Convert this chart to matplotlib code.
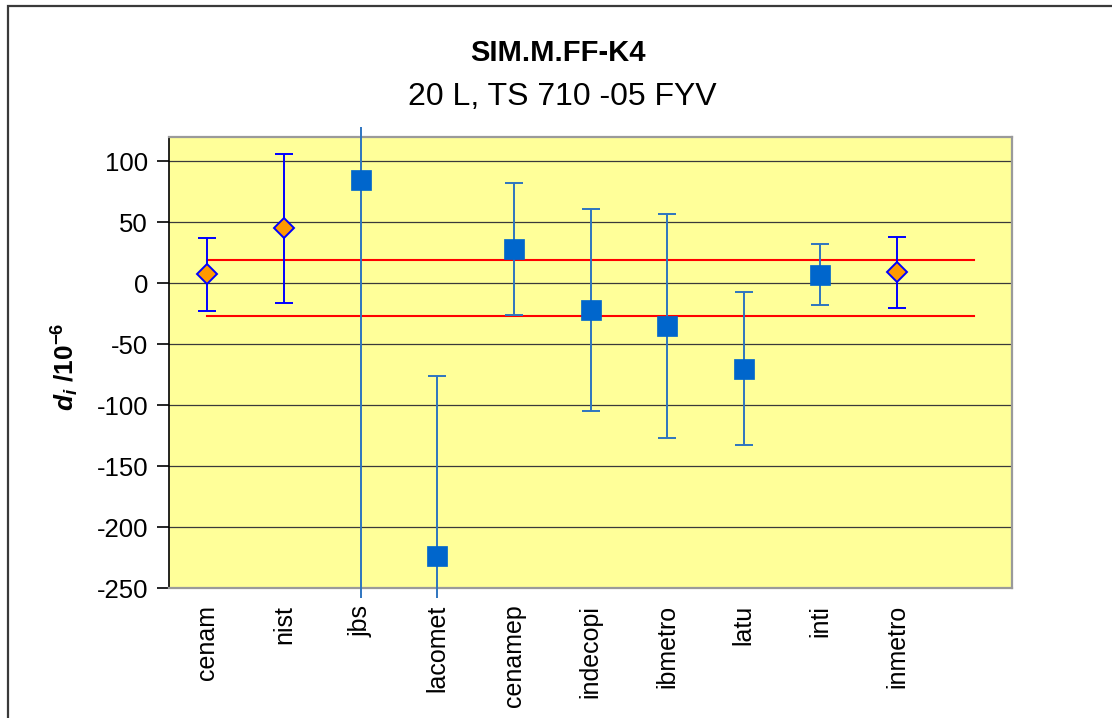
import matplotlib
matplotlib.use("Agg")
import matplotlib.pyplot as plt
from matplotlib.patches import Rectangle
import numpy as np

# ---- data ----
categories = ['cenam', 'nist', 'jbs', 'lacomet', 'cenamep', 'indecopi',
              'ibmetro', 'latu', 'inti', 'inmetro']
values = [7.5, 45, 85, -224, 28, -22, -35, -70, 7, 9]
uncert = [30, 61, 400, 148, 54, 83, 92, 63, 25, 29]
pilot = [True, True, False, False, False, False, False, False, False, True]
ref_upper = 18.7
ref_lower = -26.9
n_slots = 11
yticks = [-250, -200, -150, -100, -50, 0, 50, 100]

plt.rcParams['font.family'] = ['Liberation Sans', 'DejaVu Sans']
plt.rcParams['mathtext.fontset'] = 'custom'
plt.rcParams['mathtext.rm'] = 'Liberation Sans:bold'
plt.rcParams['mathtext.it'] = 'Liberation Sans:italic:bold'
plt.rcParams['mathtext.bf'] = 'Liberation Sans:bold'
plt.rcParams['axes.unicode_minus'] = False

W, H = 1112, 718
fig = plt.figure(figsize=(W / 100, H / 100), dpi=100)
fig.patch.set_facecolor('white')

# outer chart frame (left and top visible)
frame = Rectangle((8 / W, -0.1), 1.2, (H - 6) / H + 0.1, transform=fig.transFigure,
                  fill=False, edgecolor='#3a3a3a', lw=1.6, zorder=0)
fig.patches.append(frame)

L, R, T, B = 169, 1012, 137, 588
ax = fig.add_axes([L / W, (H - B) / H, (R - L) / W, (B - T) / H])
ax.set_facecolor('#FFFF99')
ax.set_xlim(-0.5, n_slots - 0.5)
ax.set_ylim(-250, 120)

for y in yticks[1:]:
    ax.axhline(y, color='#3a3a3a', lw=0.9, zorder=1)

x = np.arange(len(categories))
ax.plot([0, n_slots - 1], [ref_upper, ref_upper], color='#FF0000', lw=1.5, zorder=2)
ax.plot([0, n_slots - 1], [ref_lower, ref_lower], color='#FF0000', lw=1.5, zorder=2)

ext = 10 / (B - T)
clip_rect = Rectangle((0, -ext), 1, 1 + 2 * ext, transform=ax.transAxes)

vals = np.array(values, dtype=float)
unc = np.array(uncert, dtype=float)
pil = np.array(pilot)

def draw(mask, ecolor, marker, mfc, mec, ms, mew):
    cont = ax.errorbar(x[mask], vals[mask], yerr=unc[mask], fmt='none',
                       ecolor=ecolor, elinewidth=1.4, capsize=6.5, capthick=1.4,
                       zorder=3)
    for art in cont.get_children():
        art.set_clip_path(clip_rect)
    ax.plot(x[mask], vals[mask], linestyle='none', marker=marker, ms=ms,
            mfc=mfc, mec=mec, mew=mew, zorder=4)

draw(~pil, '#2E75C0', 's', '#0066CC', '#0066CC', 15.0, 0.5)
draw(pil, '#0000FF', 'D', '#FF9900', '#0000FF', 9.8, 1.4)

ax.set_xticks(x)
ax.set_xticklabels(categories, rotation=90, fontsize=18, va='top', ha='center')
ax.tick_params(axis='x', length=0, pad=12)
ax.set_yticks(yticks)
ax.set_yticklabels([str(v) for v in yticks], fontsize=18.5)
ax.tick_params(axis='y', length=9, width=1.2, color='black', pad=6, direction='out')

for s in ['top', 'right', 'bottom']:
    ax.spines[s].set_color('#9a9a9a')
    ax.spines[s].set_linewidth(1.6)
ax.spines['left'].set_color('black')
ax.spines['left'].set_linewidth(1.2)

fig.text(65 / W, 1 - 367 / H, r'$d_i$ /10$^{-6}$', rotation=90, fontsize=19,
         fontweight='bold', ha='center', va='center')

fig.text(558 / W, 1 - 53 / H, 'SIM.M.FF-K4', fontsize=21, fontweight='bold',
         ha='center', va='center')
fig.text(562 / W, 1 - 97 / H, '20 L, TS 710 -05 FYV', fontsize=23,
         ha='center', va='center')

fig.savefig('out.png', dpi=100, facecolor='white')
